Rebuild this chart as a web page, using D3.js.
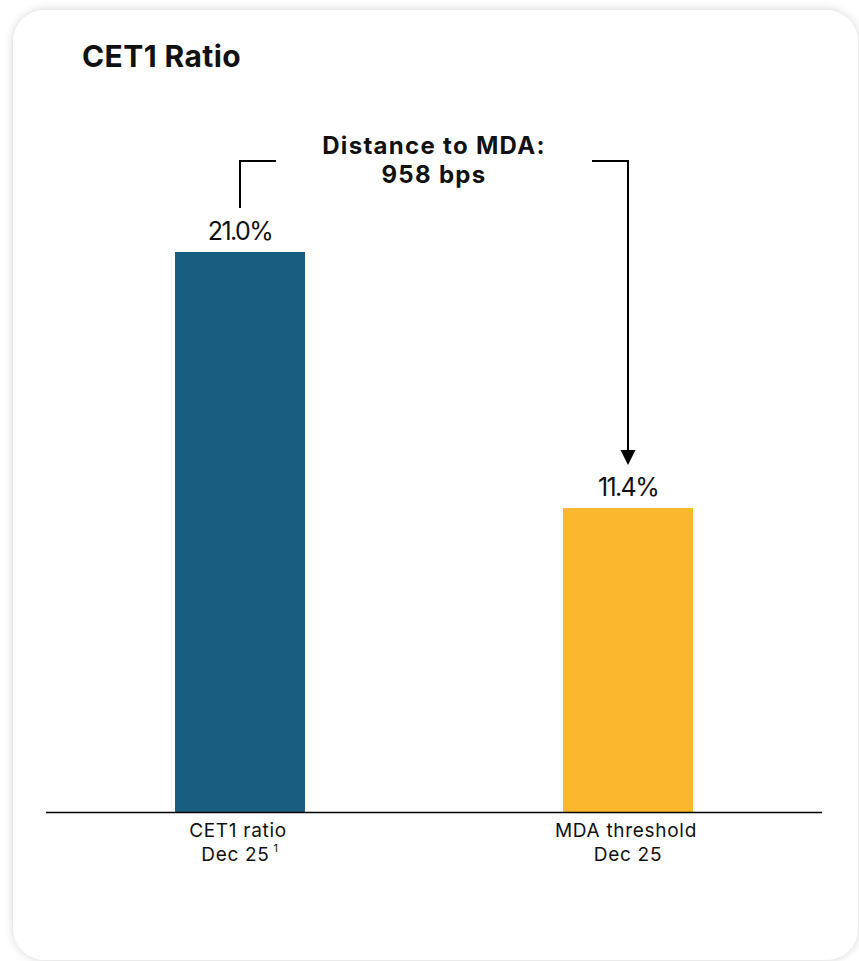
<!DOCTYPE html>
<html><head><meta charset="utf-8">
<script src="https://cdn.jsdelivr.net/npm/d3@7"></script>
<style>
html,body{margin:0;padding:0;background:#fff;}
svg{display:block;}
text{font-family:Inter,"Noto Sans",sans-serif;fill:#111;}
</style></head>
<body>
<svg id="c" width="859" height="961"></svg>
<script>
const categories = ["CET1 ratio", "MDA threshold"];
const subLabels = ["Dec 25", "Dec 25"];
const footnotes = ["1", ""];
const values = [21.0, 11.4];
const valueLabels = ["21.0%", "11.4%"];
const colors = ["#185e81", "#fbb72d"];
const title = "CET1 Ratio";
const annotation = ["Distance to MDA:", "958 bps"];

const svg = d3.select("#c");
const defs = svg.append("defs");
const f = defs.append("filter").attr("id","sh").attr("x","-5%").attr("y","-5%").attr("width","110%").attr("height","110%");
f.append("feGaussianBlur").attr("in","SourceAlpha").attr("stdDeviation",5);
f.append("feComponentTransfer").append("feFuncA").attr("type","linear").attr("slope",0.18);
const m = f.append("feMerge"); m.append("feMergeNode"); m.append("feMergeNode").attr("in","SourceGraphic");

svg.append("rect").attr("x",13).attr("y",10).attr("width",845).attr("height",950)
  .attr("rx",32).attr("fill","#fff").attr("filter","url(#sh)");

svg.append("text").attr("x",82).attr("y",67).attr("font-size",30).attr("font-weight",700)
  .attr("letter-spacing","0.4").text(title);

const x = d3.scaleBand().domain(categories).range([46,822]).paddingInner(0.665).paddingOuter(0.3325);
const y = d3.scaleLinear().domain([0,27]).range([812,92]);

svg.selectAll("rect.bar").data(values).join("rect").attr("class","bar")
  .attr("x",(d,i)=>x(categories[i])).attr("width",x.bandwidth())
  .attr("y",d=>y(d)).attr("height",d=>y(0)-y(d)).attr("fill",(d,i)=>colors[i]);

svg.selectAll("text.val").data(values).join("text").attr("class","val")
  .attr("x",(d,i)=>x(categories[i])+x.bandwidth()/2).attr("y",d=>y(d)-12)
  .attr("text-anchor","middle").attr("font-size",25).attr("letter-spacing","-1.6")
  .text((d,i)=>valueLabels[i]);

// axis baseline
svg.append("line").attr("x1",46).attr("x2",822).attr("y1",y(0)+0.5).attr("y2",y(0)+0.5)
  .attr("stroke","#000").attr("stroke-width",1.5);

categories.forEach((c,i)=>{
  const cx = x(c)+x.bandwidth()/2;
  svg.append("text").attr("x",cx-2).attr("y",y(0)+25).attr("text-anchor","middle")
    .attr("font-size",19).attr("letter-spacing","0.7").text(c);
  const t = svg.append("text").attr("x",cx).attr("y",y(0)+49).attr("text-anchor","middle")
    .attr("font-size",19).attr("letter-spacing","0.7");
  t.append("tspan").text(subLabels[i]);
  if (footnotes[i]) t.append("tspan").attr("dx",4).attr("dy",-9).attr("font-size",11).text(footnotes[i]);
});

// annotation
const cx0 = x(categories[0])+x.bandwidth()/2;
const cx1 = x(categories[1])+x.bandwidth()/2;
const mid = (cx0+cx1)/2;
svg.append("text").attr("x",mid).attr("y",154).attr("text-anchor","middle")
  .attr("font-size",24).attr("font-weight",700).attr("letter-spacing","1.3").text(annotation[0]);
svg.append("text").attr("x",mid).attr("y",183).attr("text-anchor","middle")
  .attr("font-size",24).attr("font-weight",700).attr("letter-spacing","1.3").text(annotation[1]);

const bracketY = 161;
svg.append("path").attr("d",`M${cx0},${y(values[0])-44}V${bracketY}H${cx0+36}`)
  .attr("fill","none").attr("stroke","#000").attr("stroke-width",2);
const tipY = y(values[1])-43;
svg.append("path").attr("d",`M${cx1-36},${bracketY}H${cx1}V${tipY-14}`)
  .attr("fill","none").attr("stroke","#000").attr("stroke-width",2);
svg.append("path").attr("d",`M${cx1-7.5},${tipY-15}L${cx1+7.5},${tipY-15}L${cx1},${tipY}Z`).attr("fill","#000");
</script>
</body></html>
